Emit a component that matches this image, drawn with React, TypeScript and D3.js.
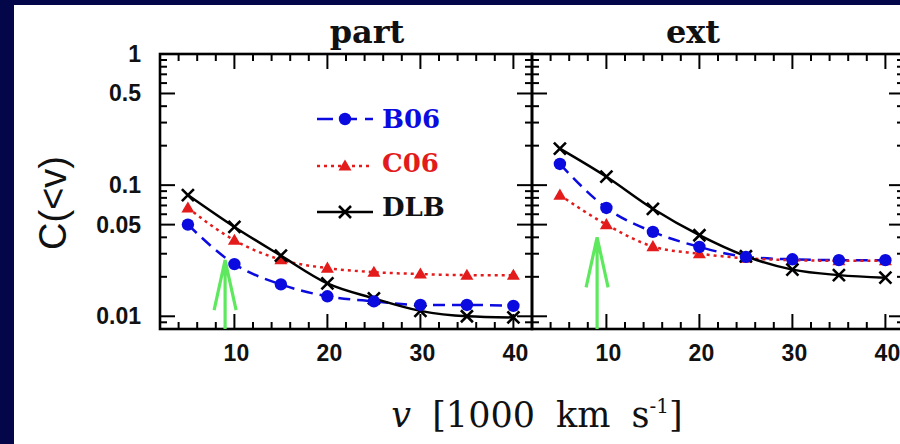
import React, { useEffect } from 'react';
import * as d3 from 'd3';

// ---- data ----
const V = [5, 10, 15, 20, 25, 30, 35, 40];
const partB06 = [0.05, 0.025, 0.0175, 0.0142, 0.013, 0.0122, 0.0122, 0.012];
const partC06 = [0.067, 0.038, 0.027, 0.0233, 0.0217, 0.021, 0.0206, 0.0206];
const partDLB = [0.084, 0.048, 0.029, 0.0178, 0.0137, 0.011, 0.01, 0.0098];
const extB06 = [0.145, 0.067, 0.044, 0.0338, 0.0284, 0.0272, 0.0268, 0.0268];
const extC06 = [0.084, 0.05, 0.034, 0.03, 0.0277, 0.0268, 0.0265, 0.0265];
const extDLB = [0.19, 0.116, 0.066, 0.0415, 0.0287, 0.0227, 0.0206, 0.0197];
const panelTitles = ['part', 'ext'];
const seriesNames = ['B06', 'C06', 'DLB'];
const yTickValues = [1, 0.5, 0.1, 0.05, 0.01];
const yTickLabels = ['1', '0.5', '0.1', '0.05', '0.01'];
const xTickValues = [10, 20, 30, 40];
const xTickLabels = ['10', '20', '30', '40'];
const arrowV = 9;
const arrowTips = [0.0268, 0.04];

const NAVY = '#03074a';
const BLUE = '#0b0be0';
const RED = '#e31b1b';
const GREEN = '#5ee85e';

const styles: Record<string, any> = {
  B06: { color: BLUE, dash: '12,7' },
  C06: { color: RED, dash: '3,4' },
  DLB: { color: '#000', dash: null },
};

function Marker({ name, x, y }: { name: string; x: number; y: number }) {
  if (name === 'B06') return <circle cx={x} cy={y} r={6.2} fill={BLUE} />;
  if (name === 'C06') {
    const s = 6.5;
    return <path d={`M${x},${y - s}L${x + s},${y + s * 0.7}L${x - s},${y + s * 0.7}Z`} fill={RED} />;
  }
  const s = 6;
  return (
    <path d={`M${x - s},${y - s}L${x + s},${y + s}M${x - s},${y + s}L${x + s},${y - s}`} stroke="#000" strokeWidth={2.6} />
  );
}

export default function App() {
  useEffect(() => {
    document.body.style.margin = '0';
  }, []);
  const W = 900, H = 444;
  const yTop = 54, yBot = 329;
  const y = d3.scaleLog().domain([0.008, 1]).range([yBot, yTop]);
  const panelX = [[160, 532], [532, 904]];
  const titleX = [367, 693];
  const panelData = [
    { B06: partB06, C06: partC06, DLB: partDLB },
    { B06: extB06, C06: extC06, DLB: extDLB },
  ];
  const yTicks = y.ticks();
  const isLongY = (v: number) => yTickValues.some((t) => Math.abs(t - v) / t < 1e-6);
  const xMinor = d3.range(2, 43, 2);
  const MAJ = 15, MIN = 7;

  return (
    <svg width={W} height={H} style={{ position: 'absolute', left: 0, top: 0, display: 'block' }}>
      <rect x={0} y={0} width={W} height={H} fill={NAVY} />
      <rect x={14} y={5} width={W - 14} height={H - 5} fill="#fff" />
      {panelX.map(([x0, x1], pi) => {
        const x = d3.scaleLinear().domain([2, 42]).range([x0, x1]);
        const data: any = panelData[pi];
        const line = d3
          .line<number>()
          .x((_, i) => x(V[i]))
          .y((d) => y(d))
          .curve(d3.curveMonotoneX);
        const ax = x(arrowV);
        const tipY = y(arrowTips[pi]);
        return (
          <g key={pi}>
            {/* title */}
            <text x={titleX[pi]} y={43} textAnchor="middle" fontFamily="DejaVu Serif" fontWeight="bold" fontSize={32} fill="#111">
              {panelTitles[pi]}
            </text>
            {/* x ticks */}
            {xMinor.map((v) => {
              const len = v % 10 === 0 ? MAJ : MIN;
              return (
                <g key={'xt' + v} stroke="#000" strokeWidth={2}>
                  <line x1={x(v)} x2={x(v)} y1={yBot} y2={yBot - len} />
                  <line x1={x(v)} x2={x(v)} y1={yTop} y2={yTop + len} />
                </g>
              );
            })}
            {/* y ticks */}
            {yTicks.map((v, i) => {
              const len = isLongY(v) ? MAJ : MIN;
              return (
                <g key={'yt' + i} stroke="#000" strokeWidth={2}>
                  <line x1={x0} x2={x0 + len} y1={y(v)} y2={y(v)} />
                  <line x1={x1} x2={x1 - len} y1={y(v)} y2={y(v)} />
                </g>
              );
            })}
            <rect x={x0} y={yTop} width={x1 - x0} height={yBot - yTop} fill="none" stroke="#000" strokeWidth={2.6} />
            {/* x tick labels */}
            {xTickValues.map((v, i) => (
              <text key={'xl' + v} x={x(v) + 2} y={361} textAnchor="middle" fontFamily="Liberation Sans" fontWeight="bold" fontSize={23} fill="#111">
                {xTickLabels[i]}
              </text>
            ))}
            {/* green arrow */}
            <path
              d={`M${ax},${yBot}L${ax},${tipY}M${ax - 11},${tipY + 50}L${ax},${tipY}L${ax + 11},${tipY + 50}`}
              stroke={GREEN}
              strokeWidth={3.2}
              fill="none"
            />
            {/* lines */}
            {seriesNames.map((s) => (
              <path
                key={'l' + s}
                d={line(data[s]) || ''}
                fill="none"
                stroke={styles[s].color}
                strokeWidth={2.5}
                strokeDasharray={styles[s].dash || undefined}
              />
            ))}
            {/* markers */}
            {['C06', 'DLB', 'B06'].map((s) =>
              data[s].map((d: number, i: number) => <Marker key={s + i} name={s} x={x(V[i])} y={y(d)} />)
            )}
          </g>
        );
      })}
      {/* y tick labels */}
      {yTickValues.map((v, i) => (
        <text key={'yl' + i} x={141} y={y(v) + 8} textAnchor="end" fontFamily="Liberation Sans" fontWeight="bold" fontSize={23} fill="#111">
          {yTickLabels[i]}
        </text>
      ))}
      {/* y axis title */}
      <text
        transform={`translate(66,203) rotate(-90)`}
        textAnchor="middle"
        fontFamily="Liberation Sans"
        fontSize={38}
        fill="#111"
      >
        C(&lt;v)
      </text>
      {/* legend */}
      {seriesNames.map((s, i) => {
        const ly = [119, 166, 212][i];
        return (
          <g key={'lg' + s}>
            <line x1={317} x2={373} y1={ly} y2={ly} stroke={styles[s].color} strokeWidth={2.5} strokeDasharray={s === 'C06' ? '3,4' : s === 'B06' ? '16,8' : undefined} />
            <Marker name={s} x={345} y={ly} />
            <text x={382} y={ly + [9, 6, 4][i]} fontFamily="DejaVu Serif" fontWeight="bold" fontSize={26} fill={styles[s].color === '#000' ? '#111' : styles[s].color}>
              {s}
            </text>
          </g>
        );
      })}
      {/* x axis title */}
      <text x={537} y={427} textAnchor="middle" fontFamily="DejaVu Serif" fontSize={35} fill="#111" style={{ wordSpacing: '10px' }}>
        <tspan fontStyle="italic">v</tspan> [1000 km s
        <tspan fontSize={20} dy={-14}>-1</tspan>
        <tspan dy={14}>]</tspan>
      </text>
    </svg>
  );
}
